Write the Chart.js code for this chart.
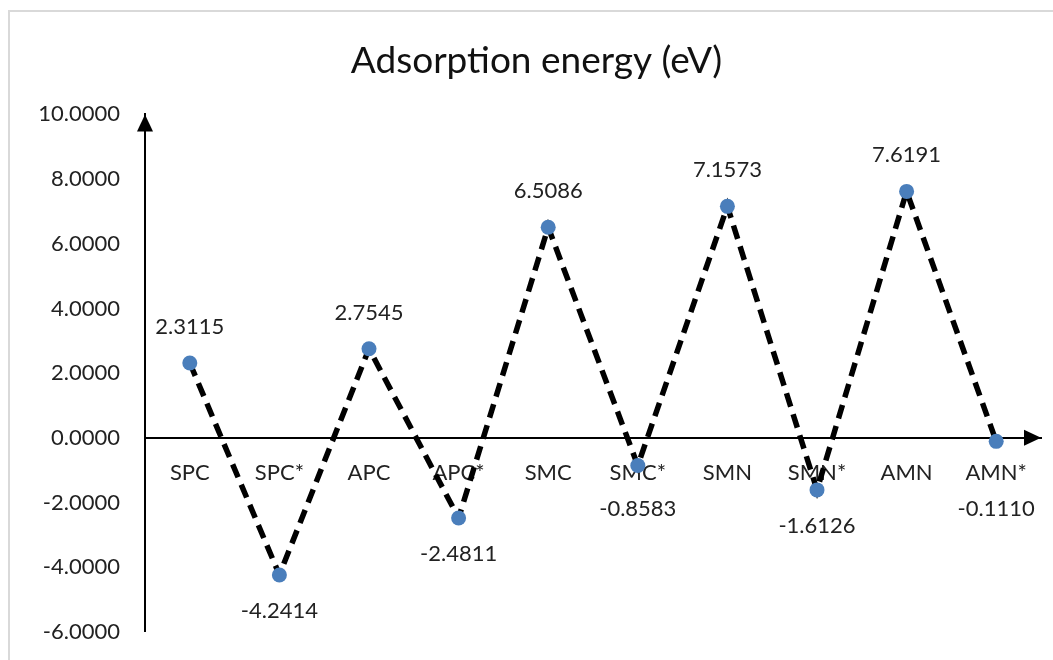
<!DOCTYPE html>
<html lang="en">

<head>
    <meta charset="utf-8" />
    <title>Adsorption energy</title>
    <script src="https://cdn.jsdelivr.net/npm/chart.js"></script>
    <style>
        html, body { margin: 0; padding: 0; background: #fff; overflow: hidden; }
        #frame { position: absolute; left: 8px; top: 10px; width: 1100px; height: 700px; border: 2px solid #d9d9d9; }
        #wrap { position: absolute; left: 0; top: 0; width: 1053px; height: 670px; }
    </style>
</head>

<body>
    <div id="frame"></div>
    <div id="wrap"><canvas id="EnergyChart"></canvas></div>
    <script>
        var categories = ['SPC', 'SPC*', 'APC', 'APC*', 'SMC', 'SMC*', 'SMN', 'SMN*', 'AMN', 'AMN*'];
        var energies = [2.3115, -4.2414, 2.7545, -2.4811, 6.5086, -0.8583, 7.1573, -1.6126, 7.6191, -0.1110];
        var yTicks = [-6, -4, -2, 0, 2, 4, 6, 8, 10];

        var font = 'Lato';

        // axis lines with arrow heads
        const arrows = {
            id: 'arrows',
            afterDraw(chart) {
                const ctx = chart.ctx;
                const area = chart.chartArea;
                const y0 = chart.scales.y.getPixelForValue(0);
                ctx.save();
                ctx.fillStyle = '#000';
                // y axis, pointing up
                ctx.beginPath();
                ctx.moveTo(area.left, area.top);
                ctx.lineTo(area.left - 8, area.top + 17);
                ctx.lineTo(area.left + 8, area.top + 17);
                ctx.closePath();
                ctx.fill();
                // x axis, pointing right
                ctx.beginPath();
                ctx.moveTo(area.right, y0);
                ctx.lineTo(area.right - 17, y0 - 8);
                ctx.lineTo(area.right - 17, y0 + 8);
                ctx.closePath();
                ctx.fill();
                ctx.restore();
            }
        };

        // value labels above positive points, below negative ones
        const valueLabels = {
            id: 'valueLabels',
            afterDatasetsDraw(chart) {
                const ctx = chart.ctx;
                const meta = chart.getDatasetMeta(0);
                const y0 = chart.scales.y.getPixelForValue(0);
                ctx.save();
                ctx.font = '22px ' + font;
                ctx.fillStyle = '#222';
                ctx.textAlign = 'center';
                ctx.textBaseline = 'middle';
                meta.data.forEach((pt, i) => {
                    var v = energies[i];
                    var ty;
                    if (v >= 0) {
                        ty = pt.y - 36;
                    } else {
                        ty = Math.max(pt.y + 36, y0 + 71);
                    }
                    ctx.fillText(v.toFixed(4), pt.x, ty);
                });
                ctx.restore();
            }
        };

        function DrawChart() {
            const ctx = document.getElementById('EnergyChart');

            new Chart(ctx, {
                type: 'line',
                data: {
                    labels: categories,
                    datasets: [{
                        label: 'Adsorption energy (eV)',
                        data: energies,
                        borderColor: '#000',
                        borderWidth: 5.5,
                        borderDash: [14, 8],
                        tension: 0,
                        pointRadius: 7.5,
                        pointBorderWidth: 0,
                        pointBackgroundColor: '#4a7ebb',
                        pointHoverRadius: 7.5
                    }]
                },
                plugins: [arrows, valueLabels],
                options: {
                    responsive: true,
                    maintainAspectRatio: false,
                    animation: false,
                    layout: {
                        padding: { left: 32, right: 12, top: 0, bottom: 28 }
                    },
                    scales: {
                        x: {
                            type: 'category',
                            offset: true,
                            position: { y: 0 },
                            grid: { display: false, drawTicks: false },
                            border: { display: true, color: '#000', width: 2 },
                            ticks: {
                                padding: 22,
                                color: '#222',
                                font: { family: font, size: 22 },
                                maxRotation: 0,
                                autoSkip: false
                            }
                        },
                        y: {
                            min: -6,
                            max: 10,
                            afterFit(scale) { scale.width = 113; },
                            afterBuildTicks(scale) { scale.ticks = yTicks.map(v => ({ value: v })); },
                            grid: { display: false, drawTicks: false },
                            border: { display: true, color: '#000', width: 2 },
                            ticks: {
                                padding: 25,
                                color: '#222',
                                font: { family: font, size: 22 },
                                callback: (v) => Number(v).toFixed(4)
                            }
                        }
                    },
                    plugins: {
                        legend: { display: false },
                        tooltip: { enabled: false },
                        title: {
                            display: true,
                            text: 'Adsorption energy (eV)',
                            color: '#111',
                            font: { family: font, size: 37, weight: 'normal' },
                            padding: { top: 39, bottom: 31 }
                        }
                    }
                }
            });
        }

        DrawChart();
    </script>
</body>

</html>
